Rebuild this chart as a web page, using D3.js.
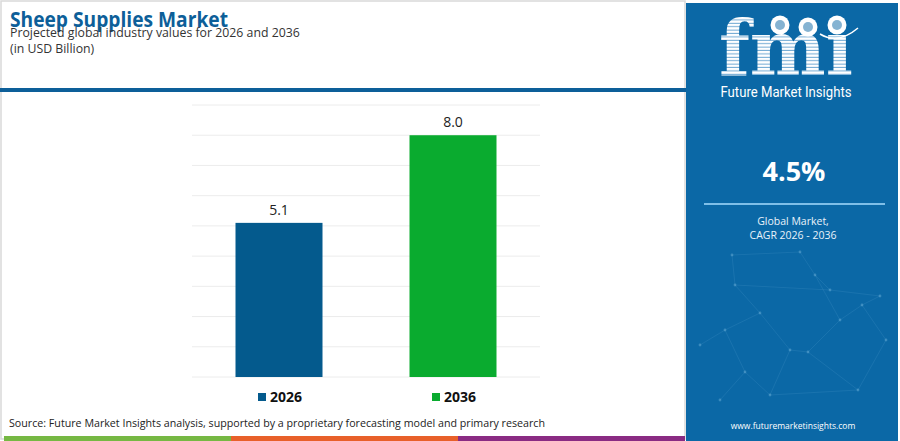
<!DOCTYPE html>
<html>
<head>
<meta charset="utf-8">
<script src="https://cdn.jsdelivr.net/npm/d3@7"></script>
<style>
  body { margin: 0; background: #fff; }
  svg { display: block; font-family: "Open Sans", sans-serif; }
</style>
</head>
<body>
<svg id="chart"></svg>
<script>
let years = ["2026", "2036"];
let values = [5.1, 8.0];
let colors = ["#045a8d", "#0aab2f"];
let yTicks = [0, 1, 2, 3, 4, 5, 6, 7, 8, 9];

let cagr = "4.5%";
let footerColors = ["#76b843", "#e8602a", "#8a2b83"];

let width = 900;
let height = 441;

let svg = d3.select("#chart").attr("width", width).attr("height", height);

// frame + header
svg.append("rect").attr("x", 1).attr("y", 1).attr("width", 684).attr("height", 438)
  .attr("fill", "none").attr("stroke", "#d9d9d9").attr("stroke-width", 1.5);

svg.append("text").attr("x", 10).attr("y", 27)
  .attr("textLength", 218).attr("lengthAdjust", "spacingAndGlyphs")
  .style("font-size", "21px").style("font-weight", 700).style("fill", "#0d5f99")
  .text("Sheep Supplies Market");
svg.append("text").attr("x", 10).attr("y", 37)
  .style("font-size", "12.3px").style("fill", "#333")
  .text("Projected global industry values for 2026 and 2036");
svg.append("text").attr("x", 10).attr("y", 53)
  .style("font-size", "12.3px").style("fill", "#333")
  .text("(in USD Billion)");

svg.append("rect").attr("x", 0).attr("y", 88).attr("width", 686).attr("height", 4).attr("fill", "#0d5f99");

// scales
let xScale = d3.scaleBand().domain(years).range([192, 540])
  .paddingInner(0.5).paddingOuter(0.25);
let yScale = d3.scaleLinear().domain([0, 9]).range([377, 105]);

// grid
svg.append("g").selectAll("line").data(yTicks).enter().append("line")
  .attr("x1", 192).attr("x2", 540)
  .attr("y1", d => yScale(d)).attr("y2", d => yScale(d))
  .attr("stroke", "#ececec").attr("stroke-width", 1);

// bars
svg.append("g").selectAll("rect").data(values).enter().append("rect")
  .attr("x", (d, i) => xScale(years[i]))
  .attr("width", xScale.bandwidth())
  .attr("y", d => yScale(d))
  .attr("height", d => yScale(0) - yScale(d))
  .attr("fill", (d, i) => colors[i]);

svg.append("g").selectAll("text").data(values).enter().append("text")
  .attr("x", (d, i) => xScale(years[i]) + xScale.bandwidth() / 2)
  .attr("y", d => yScale(d) - 8)
  .attr("text-anchor", "middle")
  .style("font-size", "14px").style("fill", "#222")
  .text(d => d.toFixed(1));

// legend
let legend = svg.append("g").selectAll("g").data(years).enter().append("g")
  .attr("transform", (d, i) => "translate(" + (xScale(d) + xScale.bandwidth() / 2 - 21) + ",0)");
legend.append("rect").attr("x", 0).attr("y", 393).attr("width", 8).attr("height", 8)
  .attr("fill", (d, i) => colors[i]);
legend.append("text").attr("x", 12).attr("y", 402)
  .style("font-size", "14px").style("font-weight", 700).style("fill", "#111")
  .text(d => d);

// source + footer
svg.append("text").attr("x", 9).attr("y", 427)
  .attr("textLength", 536).attr("lengthAdjust", "spacingAndGlyphs")
  .style("font-size", "11px").style("fill", "#222")
  .text("Source: Future Market Insights analysis, supported by a proprietary forecasting model and primary research");

svg.append("g").selectAll("rect").data(footerColors).enter().append("rect")
  .attr("x", (d, i) => 4 + i * 227).attr("y", 436)
  .attr("width", 227).attr("height", 5).attr("fill", d => d);

//==========================
// right panel
//==========================
let panel = svg.append("g");
panel.append("rect").attr("x", 686).attr("y", 3).attr("width", 212).attr("height", 438).attr("fill", "#0b68a6");

// faint network decoration
let nodes = [[700,345],[725,330],[760,313],[790,350],[808,352],[830,290],[862,305],[886,340],[745,372],[770,395],[720,400],[840,320],[858,390],[880,296],[735,285],[815,275],[732,255],[800,252]];
let links = [[0,1],[1,2],[2,3],[3,4],[4,11],[11,6],[6,7],[2,14],[14,5],[5,15],[15,11],[1,8],[8,9],[9,3],[8,10],[4,12],[12,7],[6,13],[13,5],[9,12],[16,14],[16,17],[17,15]];
panel.append("g").selectAll("line").data(links).enter().append("line")
  .attr("x1", d => nodes[d[0]][0]).attr("y1", d => nodes[d[0]][1])
  .attr("x2", d => nodes[d[1]][0]).attr("y2", d => nodes[d[1]][1])
  .attr("stroke", "#5aa3cf").attr("stroke-opacity", 0.28).attr("stroke-width", 0.7);
panel.append("g").selectAll("circle").data(nodes).enter().append("circle")
  .attr("cx", d => d[0]).attr("cy", d => d[1]).attr("r", 1.4)
  .attr("fill", "#7fbde0").attr("fill-opacity", 0.4);

// logo
let defs = svg.append("defs");
let pat = defs.append("pattern").attr("id", "stripes").attr("patternUnits", "userSpaceOnUse")
  .attr("width", 10).attr("height", 3.4);
pat.append("rect").attr("width", 10).attr("height", 3.4).attr("fill", "#ffffff");
pat.append("rect").attr("y", 2.4).attr("width", 10).attr("height", 1).attr("fill", "#6ea8d2");

panel.append("text").attr("x", 719).attr("y", 75)
  .attr("textLength", 134).attr("lengthAdjust", "spacingAndGlyphs")
  .style("font-family", "'DejaVu Serif', serif").style("font-weight", 700)
  .style("font-size", "76px").style("fill", "url(#stripes)")
  .text("fmı");

[[780, 25], [808, 27], [837, 25]].forEach(c => {
  panel.append("circle").attr("cx", c[0]).attr("cy", c[1]).attr("r", 9.5).attr("fill", "#fff");
  panel.append("circle").attr("cx", c[0]).attr("cy", c[1]).attr("r", 5).attr("fill", "#0b68a6").attr("fill-opacity", 0.5);
});
panel.append("path").attr("d", "M820,34 Q838,45 858,28").attr("fill", "none")
  .attr("stroke", "#fff").attr("stroke-width", 1.5);

panel.append("text").attr("x", 786).attr("y", 97).attr("text-anchor", "middle")
  .attr("textLength", 131).attr("lengthAdjust", "spacingAndGlyphs")
  .style("font-family", "Roboto, sans-serif").style("font-size", "14px").style("fill", "#fff")
  .text("Future Market Insights");

panel.append("text").attr("x", 794).attr("y", 181).attr("text-anchor", "middle")
  .style("font-size", "27px").style("font-weight", 700).style("fill", "#fff")
  .text(cagr);
panel.append("line").attr("x1", 704).attr("x2", 885).attr("y1", 204).attr("y2", 204)
  .attr("stroke", "#7fbfe8").attr("stroke-width", 2);
panel.append("text").attr("x", 793).attr("y", 225).attr("text-anchor", "middle")
  .style("font-size", "10.5px").style("fill", "#e8f2fa").text("Global Market,");
panel.append("text").attr("x", 793).attr("y", 239).attr("text-anchor", "middle")
  .style("font-size", "10.5px").style("fill", "#e8f2fa").text("CAGR 2026 - 2036");

panel.append("text").attr("x", 793).attr("y", 429).attr("text-anchor", "middle")
  .style("font-size", "8.5px").style("fill", "#fff").text("www.futuremarketinsights.com");
</script>
</body>
</html>
